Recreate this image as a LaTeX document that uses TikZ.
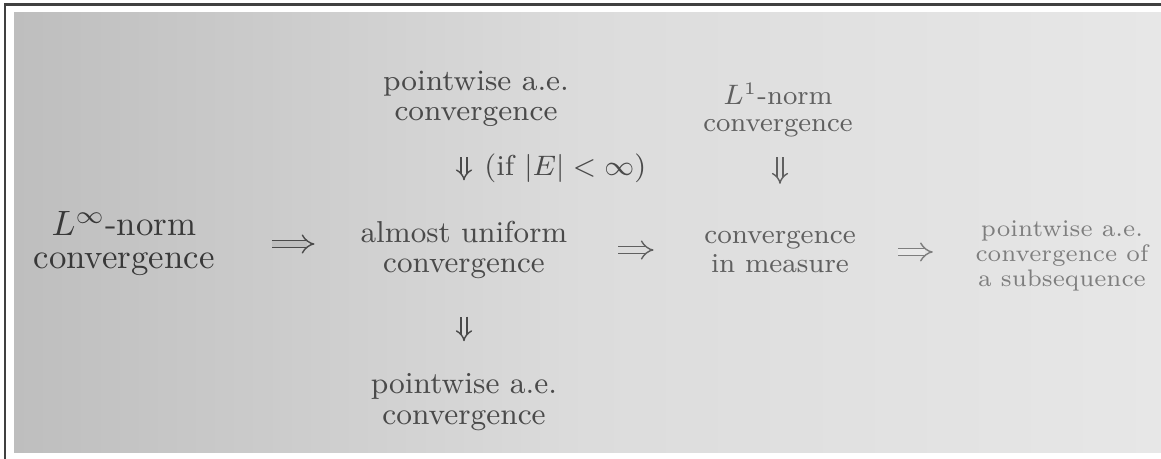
\documentclass[tikz,border=0pt]{standalone}
\usetikzlibrary{arrows.meta,positioning,calc}
\definecolor{photoL}{HTML}{929292}
\definecolor{photoQ}{HTML}{BEBEBE}
\definecolor{photoM}{HTML}{DCDCDC}
\definecolor{photoR}{HTML}{F2F2F2}
\definecolor{inkA}{HTML}{383838}
\definecolor{inkB}{HTML}{4A4A4A}
\definecolor{inkC}{HTML}{606060}
\definecolor{inkD}{HTML}{7E7E7E}
\pgfdeclarehorizontalshading{paper}{100bp}{color(0bp)=(photoL); color(25bp)=(photoQ); color(50bp)=(photoM); color(100bp)=(photoR)}
\tikzset{stmt/.style={inner sep=0pt,align=center},imp/.style={double=white,double distance=1.5pt,line width=0.4pt,-{Implies},draw=inkB},impv/.style={imp,double distance=1.2pt}}
\begin{document}
\begin{tikzpicture}[x=0.01cm,y=-0.01cm]
\useasboundingbox(0,0)rectangle(1161,459);
\fill[white](0,0)rectangle(1161,459);
\shade[shading=paper](14,13)rectangle(1161,453);
\draw[line width=0.6pt,black!75](1161,4.5)--(5,4.5)--(5,459);
\node[stmt,text=inkA,font=\fontsize{9.9}{9.4}\selectfont](linf)at(124,244){$L^\infty$-norm\\convergence};
\node[stmt,text=inkB,font=\fontsize{8.6}{8.6}\selectfont](unif)at(464,250){almost uniform\\convergence};
\node[stmt,text=inkB,font=\fontsize{8.4}{8.5}\selectfont](ptop)at(476,99){pointwise a.e.\\convergence};
\node[stmt,text=inkB,font=\fontsize{8.7}{9.0}\selectfont](pbot)at(464,402){pointwise a.e.\\convergence};
\node[stmt,text=inkC,font=\fontsize{7.8}{8.0}\selectfont](meas)at(780,252){convergence\\in measure};
\node[stmt,text=inkC,font=\fontsize{7.7}{7.6}\selectfont](lone)at(778,110){$L^1$-norm\\convergence};
\node[stmt,text=inkD,font=\fontsize{6.8}{7.2}\selectfont](subs)at(1062,256){pointwise a.e.\\convergence of\\a subsequence};
\draw[imp,double=photoQ,shorten <=0.566cm,shorten >=0.455cm](linf.east)--(linf.east-|unif.west);
\draw[imp,double=photoM,draw=inkC,shorten <=0.5cm,shorten >=0.5cm](unif.east)--(unif.east-|meas.west);
\draw[imp,double=photoM!40!photoR,draw=inkD,shorten <=0.42cm,shorten >=0.42cm](meas.east)--(meas.east-|subs.west);
\draw[impv,double=photoM,shorten <=0.30cm,shorten >=0.40cm](unif.north|-ptop.south)--node[pos=.44,right=0.08cm,text=inkB,font=\fontsize{8.2}{9}\selectfont]{(if $|E|<\infty$)}(unif.north);
\draw[impv,double=photoM,draw=inkC,shorten <=0.2cm,shorten >=0.47cm](meas.north|-lone.south)--(meas.north);
\draw[impv,double=photoM,shorten <=0.37cm,shorten >=0.31cm](unif.south)--(unif.south|-pbot.north);
\end{tikzpicture}
\end{document}
